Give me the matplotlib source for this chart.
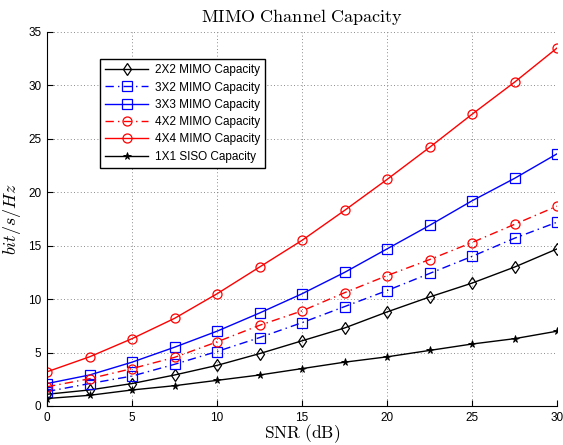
import matplotlib
matplotlib.use('Agg')
import matplotlib.pyplot as plt
import numpy as np

plt.rcParams['mathtext.fontset'] = 'cm'
plt.rcParams['font.family'] = ['Liberation Sans', 'DejaVu Sans']

snr_db = [0, 2.5, 5, 7.5, 10, 12.5, 15, 17.5, 20, 22.5, 25, 27.5, 30]

cap_2x2 = [1.1, 1.5, 2.1, 2.9, 3.8, 4.9, 6.1, 7.3, 8.8, 10.2, 11.5, 13.0, 14.7]
cap_3x2 = [1.35, 2.1, 2.8, 3.9, 5.1, 6.4, 7.8, 9.3, 10.8, 12.4, 14.0, 15.7, 17.2]
cap_3x3 = [2.1, 2.9, 4.1, 5.5, 7.0, 8.7, 10.5, 12.5, 14.7, 16.9, 19.2, 21.3, 23.6]
cap_4x2 = [1.8, 2.55, 3.5, 4.55, 6.0, 7.55, 8.9, 10.6, 12.2, 13.7, 15.3, 17.0, 18.7]
cap_4x4 = [3.2, 4.6, 6.3, 8.2, 10.5, 13.0, 15.5, 18.3, 21.2, 24.2, 27.3, 30.3, 33.5]
cap_siso = [0.7, 1.0, 1.5, 1.9, 2.4, 2.9, 3.5, 4.1, 4.6, 5.2, 5.8, 6.3, 7.0]

labels = ['2X2 MIMO Capacity', '3X2 MIMO Capacity', '3X3 MIMO Capacity',
          '4X2 MIMO Capacity', '4X4 MIMO Capacity', '1X1 SISO Capacity']

dashdot = (0, (6, 3, 1, 3))

fig = plt.figure(figsize=(5.63, 4.45), dpi=100)
ax = fig.add_axes([47/563, 1-406/445, 510/563, 374/445])

ax.plot(snr_db, cap_2x2, color='k', lw=1, marker='d', ms=6.5, mfc='none', mew=0.9, label=labels[0])
ax.plot(snr_db, cap_3x2, color='b', lw=1, ls=dashdot, marker='s', ms=6.5, mfc='none', mew=0.9, label=labels[1])
ax.plot(snr_db, cap_3x3, color='b', lw=1, marker='s', ms=6.5, mfc='none', mew=0.9, label=labels[2])
ax.plot(snr_db, cap_4x2, color='r', lw=1, ls=dashdot, marker='o', ms=6.5, mfc='none', mew=0.9, label=labels[3])
ax.plot(snr_db, cap_4x4, color='r', lw=1, marker='o', ms=6.5, mfc='none', mew=0.9, label=labels[4])
ax.plot(snr_db, cap_siso, color='k', lw=1, marker='*', ms=5.5, mew=0.6, label=labels[5])

ax.set_xlim(0, 30)
ax.set_ylim(0, 35)
ax.set_xticks(np.arange(0, 31, 5))
ax.set_yticks(np.arange(0, 36, 5))
ax.tick_params(direction='in', labelsize=8.5, length=4, width=0.8, pad=4)

ax.spines['right'].set_visible(False)
ax.spines['top'].set_visible(False)
ax.grid(True, ls=(0, (1, 3)), color='#666666', lw=0.6)

ax.set_title(r'$\mathrm{MIMO\ Channel\ Capacity}$', fontsize=13, pad=7)
ax.set_xlabel(r'$\mathrm{SNR\ (dB)}$', fontsize=12.5, labelpad=-1)
ax.set_ylabel(r'$bit/s/Hz$', fontsize=13, labelpad=4)

leg = ax.legend(loc='upper left', bbox_to_anchor=(0.104, 0.928), borderaxespad=0,
                fontsize=8.5, fancybox=False, framealpha=1, edgecolor='k',
                handlelength=3.6, borderpad=0.45, labelspacing=0.45, handletextpad=0.6)
leg.get_frame().set_linewidth(1)

fig.savefig('out.png', dpi=100)
